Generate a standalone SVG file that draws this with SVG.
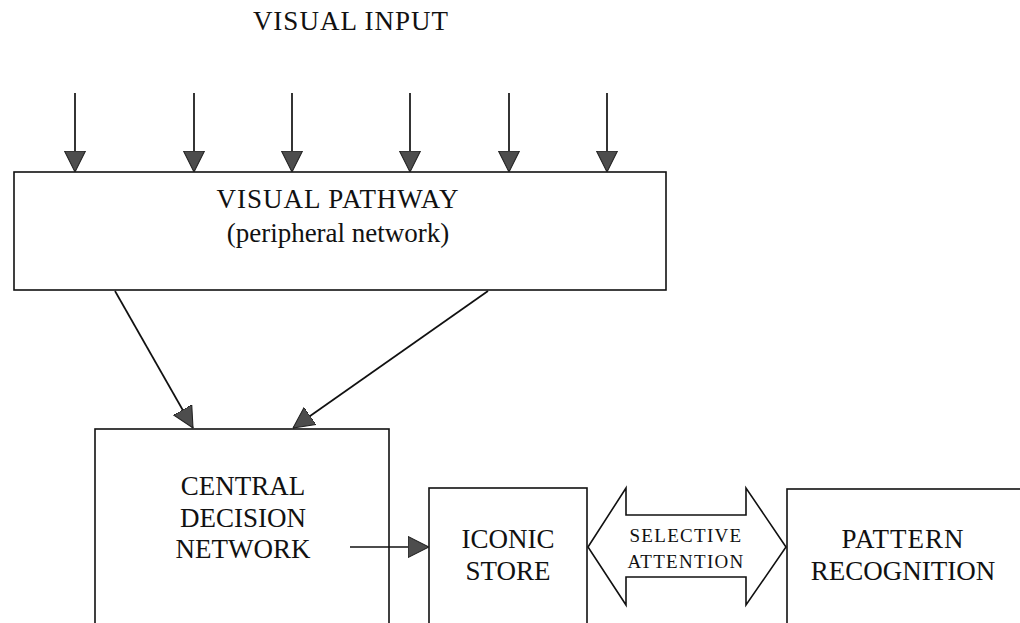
<svg xmlns="http://www.w3.org/2000/svg" width="1020" height="623" viewBox="0 0 1020 623">
<style>
.box{fill:#fff;stroke:#111;stroke-width:1.6}
.t{font-family:"Liberation Serif","Times New Roman",serif;font-size:27px;fill:#111;text-anchor:middle}
.s{font-family:"Liberation Serif","Times New Roman",serif;font-size:19px;fill:#111;text-anchor:middle;letter-spacing:1.3px}
.c{stroke:#111;stroke-width:1.7;fill:none;marker-end:url(#ah)}
</style>
<defs>
<marker id="ah" viewBox="0 0 20 20" refX="20" refY="10" markerWidth="21" markerHeight="22" markerUnits="userSpaceOnUse" orient="auto">
<path d="M0,0 L20,10 L0,20 z" fill="#4d4d4d" stroke="#222" stroke-width="1"/>
</marker>
</defs>
<rect width="1020" height="623" fill="#fff"/>
<text class="t" x="351" y="30" style="letter-spacing:1px">VISUAL INPUT</text>
<g id="visual-pathway">
<rect class="box" x="14" y="172" width="652" height="118"/>
<text class="t" x="338" y="208" style="letter-spacing:1px">VISUAL PATHWAY</text>
<text class="t" x="338" y="242">(peripheral network)</text>
</g>
<g id="central-decision">
<rect class="box" x="95" y="429" width="294" height="210"/>
<text class="t" x="243" y="495">CENTRAL</text>
<text class="t" x="243" y="527">DECISION</text>
<text class="t" x="243" y="558">NETWORK</text>
</g>
<g id="iconic-store">
<rect class="box" x="429" y="488" width="158" height="150"/>
<text class="t" x="508" y="548">ICONIC</text>
<text class="t" x="508" y="580">STORE</text>
</g>
<g id="selective-attention">
<polygon class="box" points="588,547 626,488 626,515 746,515 746,488 786,547 746,605 746,577 626,577 626,605"/>
<text class="s" x="686" y="542">SELECTIVE</text>
<text class="s" x="686" y="568">ATTENTION</text>
</g>
<g id="pattern-recognition">
<rect class="box" x="787" y="489" width="260" height="150"/>
<text class="t" x="903" y="548" style="letter-spacing:1px">PATTERN</text>
<text class="t" x="903" y="580">RECOGNITION</text>
</g>
<g id="connectors">
<line class="c" x1="75" y1="93" x2="75" y2="172"/>
<line class="c" x1="194" y1="93" x2="194" y2="172"/>
<line class="c" x1="292" y1="93" x2="292" y2="172"/>
<line class="c" x1="410" y1="93" x2="410" y2="172"/>
<line class="c" x1="509" y1="93" x2="509" y2="172"/>
<line class="c" x1="607" y1="93" x2="607" y2="172"/>
<line class="c" x1="115" y1="291" x2="193" y2="428"/>
<line class="c" x1="488" y1="291" x2="293" y2="428"/>
<line class="c" x1="350" y1="547" x2="429" y2="547"/>
</g>
</svg>
